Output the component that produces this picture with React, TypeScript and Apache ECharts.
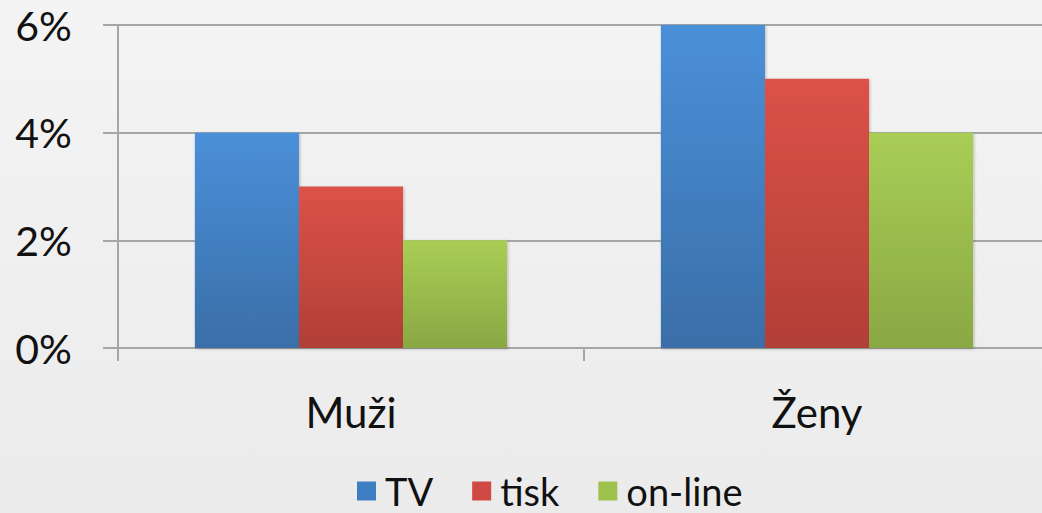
import React, { useEffect, useRef } from "react";
import * as echarts from "echarts";

const categories = ["Muži", "Ženy"];
const seriesNames = ["TV", "tisk", "on-line"];
const tvValues = [4, 6];
const tiskValues = [3, 5];
const onlineValues = [2, 4];
const yTicks = { min: 0, max: 6, interval: 2 };

const grad = (top: string, bottom: string) =>
  new echarts.graphic.LinearGradient(0, 0, 0, 1, [
    { offset: 0, color: top },
    { offset: 1, color: bottom },
  ]);

export default function App() {
  const ref = useRef<HTMLDivElement>(null);
  useEffect(() => {
    if (!ref.current) return;
    const chart = echarts.init(ref.current, null, { renderer: "svg" });
    const font = "Lato, 'Open Sans', sans-serif";
    const colors = [
      grad("#4a90d9", "#3a6ea8"),
      grad("#dc5248", "#b13f37"),
      grad("#aacd56", "#89a843"),
    ];
    const legendColors = ["#3f7ec2", "#cf4a42", "#9fc24e"];
    const values = [tvValues, tiskValues, onlineValues];
    chart.setOption({
      animation: false,
      backgroundColor: grad("#f4f4f4", "#ebebeb"),
      textStyle: { fontFamily: font },
      grid: { left: 118, width: 932, top: 25, height: 323, containLabel: false },
      legend: {
        bottom: -2,
        left: 352,
        icon: "rect",
        itemWidth: 19,
        itemHeight: 19,
        itemGap: 39,
        textStyle: { fontSize: 38, color: "#111", fontFamily: font, padding: [0, 0, 0, 4] },
        data: seriesNames.map((n, i) => ({ name: n, itemStyle: { color: legendColors[i] } })),
      },
      xAxis: {
        type: "category",
        data: categories,
        axisLine: { show: true, lineStyle: { color: "#a6a6a6", width: 2 } },
        axisTick: { show: true, length: 13, lineStyle: { color: "#a6a6a6", width: 2 } },
        axisLabel: { fontSize: 42, color: "#111", margin: 43, fontFamily: font },
      },
      yAxis: {
        type: "value",
        min: yTicks.min,
        max: yTicks.max,
        interval: yTicks.interval,
        axisLine: { show: true, lineStyle: { color: "#a6a6a6", width: 2 } },
        axisTick: { show: true, length: 15, lineStyle: { color: "#a6a6a6", width: 2 } },
        splitLine: { show: true, lineStyle: { color: "#a6a6a6", width: 2 } },
        axisLabel: { fontSize: 41, color: "#111", margin: 46, formatter: "{value}%", fontFamily: font },
      },
      series: seriesNames.map((name, i) => ({
        name,
        type: "bar",
        data: values[i],
        barGap: "0%",
        barCategoryGap: "33%",
        itemStyle: {
          color: colors[i],
          shadowColor: "rgba(0,0,0,0.25)",
          shadowBlur: 3,
          shadowOffsetX: 1,
          shadowOffsetY: 1,
        },
      })),
    });
    return () => chart.dispose();
  }, []);
  return (
    <div style={{ width: 1042, height: 513, position: "absolute", left: 0, top: 0, overflow: "hidden" }}>
      <div ref={ref} style={{ width: 1050, height: 513 }} />
    </div>
  );
}
